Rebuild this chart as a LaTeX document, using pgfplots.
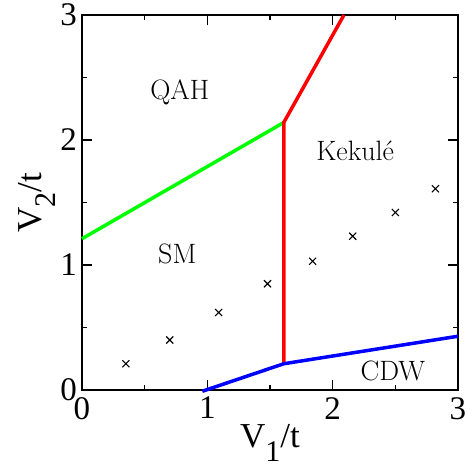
\documentclass[border=0pt]{standalone}
\usepackage{fontspec}
\usepackage{pgfplots}
\pgfplotsset{compat=1.18}
\newfontfamily\tnr{Liberation Serif}
\definecolor{pgreen}{RGB}{0,255,0}
\definecolor{pred}{RGB}{255,0,0}
\definecolor{pblue}{RGB}{0,0,255}
\begin{document}
\begin{tikzpicture}
\begin{axis}[
    at={(0,0)}, anchor=south west,
    scale only axis, width=376pt, height=375pt,
    xmin=0, xmax=3, ymin=0, ymax=3,
    xtick={0,1,2,3}, ytick={0,1,2,3},
    minor tick num=1,
    tick align=inside,
    major tick length=10pt, minor tick length=5pt,
    axis line style={line width=1.8pt},
    tick style={line width=1.4pt, black},
    clip=false,
    /pgf/number format/assume math mode=true,
    ticklabel style={font=\tnr\fontsize{33}{33}\selectfont},
    xticklabel style={inner sep=0pt, yshift=-7pt},
    yticklabel style={inner sep=0pt, xshift=-5pt},
    xlabel={\tnr\fontsize{35}{35}\selectfont V\raisebox{-14pt}{\fontsize{30}{30}\selectfont 1}/t},
    ylabel={\tnr\fontsize{35}{35}\selectfont V\raisebox{-14pt}{\fontsize{30}{30}\selectfont 2}/t},
    xlabel style={at={([yshift=-58pt]axis description cs:0.5,0)}, anchor=base, inner sep=0pt},
    ylabel style={at={([xshift=-40pt]axis description cs:0,0.5)}, anchor=base, inner sep=0pt},
]
% phase boundaries
\addplot[pgreen, line width=3.5pt] coordinates {(0,1.21) (1.61,2.14)};
\addplot[pred, line width=3.5pt] coordinates {(1.61,0.21) (1.61,2.14) (2.09,3)};
\addplot[pblue, line width=3.5pt] coordinates {(0.96,-0.01) (1.61,0.21) (3,0.43)};
% crosses
\addplot[only marks, mark=x, mark size=5pt, line width=1.1pt, black] coordinates {
    (0.35,0.21) (0.70,0.40) (1.09,0.62) (1.48,0.85)
    (1.84,1.03) (2.16,1.23) (2.50,1.42) (2.82,1.61)
};
% phase labels
\node[font=\fontsize{28}{30}\selectfont] at (axis cs:0.78,2.38) {QAH};
\node[font=\fontsize{28}{30}\selectfont] at (axis cs:0.76,1.09) {SM};
\node[font=\fontsize{28}{30}\selectfont] at (axis cs:2.18,1.91) {Kekulé};
\node[font=\fontsize{28}{30}\selectfont] at (axis cs:2.48,0.15) {CDW};
\end{axis}
\pgfresetboundingbox
\path[use as bounding box] (-82pt,-78pt) rectangle (393pt,390pt);
\end{tikzpicture}
\end{document}
